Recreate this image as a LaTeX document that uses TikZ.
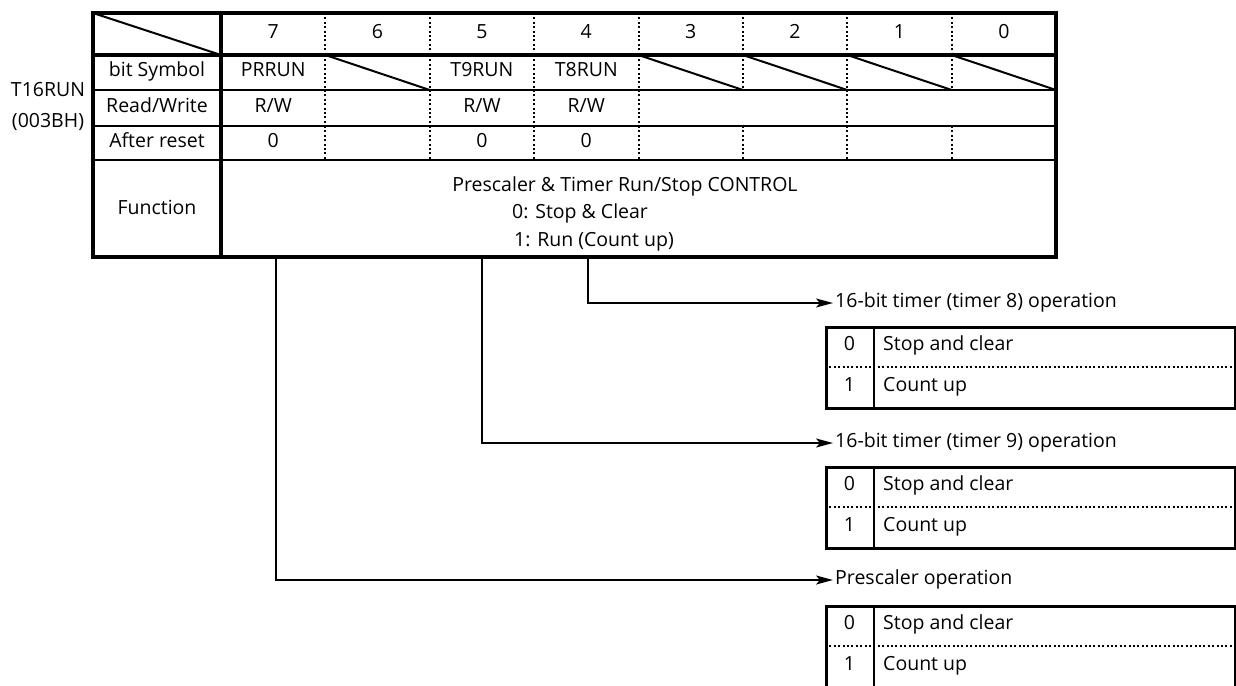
\documentclass[tikz,border=0pt]{standalone}
\usepackage{fontspec}
\setmainfont{Open Sans}
\usetikzlibrary{arrows.meta}
\begin{document}
\begin{tikzpicture}[x=1pt,y=-1pt,
  thickline/.style={line width=3.6pt},
  thinline/.style={line width=2pt},
  dotline/.style={line width=2pt, dash pattern=on 2pt off 2.4pt},
  txt/.style={font=\fontsize{19.5}{22}\selectfont, inner sep=0pt, text height=14pt, text depth=4.5pt},
  lab/.style={txt, anchor=west, inner sep=2pt},
  conn/.style={line width=2pt, -{Stealth[length=17pt,width=9pt,inset=4pt]}},
  boxst/.style={draw, line width=2.6pt, anchor=north west, minimum width=409pt, minimum height=81pt, inner sep=0pt},
]
\useasboundingbox (0,0) rectangle (1236,685);
\clip (0,0) rectangle (1236,685);
\def\cw{104.375}
% row lines (thin)
\foreach \yy in {90,126,160} \draw[thinline] (93,\yy) -- (1056,\yy);
% dotted dividers
\foreach \k in {1,...,7} {
  \draw[dotline] (221+\k*\cw,13) -- (221+\k*\cw,55);
  \draw[dotline] (221+\k*\cw,55) -- (221+\k*\cw,90);
  \draw[dotline] (221+\k*\cw,126) -- (221+\k*\cw,160);
}
\foreach \k in {1,2,3,4,6} \draw[dotline] (221+\k*\cw,90) -- (221+\k*\cw,126);
% diagonals
\draw[line width=2pt] (93,13) -- (221,55);
\foreach \k in {1,4,5,6,7} \draw[line width=2pt] (221+\k*\cw,55) -- (221+\k*\cw+\cw,90);
% thick lines
\draw[thickline] (93,55) -- (1056,55);
\draw[thickline] (221,13) -- (221,257);
\draw[thickline] (93,13) rectangle (1056,257);
% header numbers
\foreach \n [count=\i from 0] in {7,6,5,4,3,2,1,0}
  \node[txt] (h\n) at (221+\i*\cw+\cw/2,34) {\n};
% left labels
\node[txt] (reg) at (48,92) {T16RUN};
\node[txt] (addr) at (48,123) {(003BH)};
\node[txt] (lsym) at (157,72) {bit Symbol};
\node[txt] (lrw) at (157,108) {Read/Write};
\node[txt] (lrst) at (157,143) {After reset};
\node[txt] (lfun) at (157,210) {Function};
% cells
\node[txt] (s7) at (221+0.5*\cw,72) {PRRUN};
\node[txt] (s5) at (221+2.5*\cw,72) {T9RUN};
\node[txt] (s4) at (221+3.5*\cw,72) {T8RUN};
\node[txt] (rw7) at (221+0.5*\cw,108) {R/W};
\node[txt] (rw5) at (221+2.5*\cw,108) {R/W};
\node[txt] (rw4) at (221+3.5*\cw,108) {R/W};
\node[txt] (r7) at (221+0.5*\cw,143) {0};
\node[txt] (r5) at (221+2.5*\cw,143) {0};
\node[txt] (r4) at (221+3.5*\cw,143) {0};
% function text
\node[txt] (f1) at (625,187) {Prescaler \& Timer Run/Stop CONTROL};
\node[txt, anchor=west] (f2) at (512,214) {0: Stop \& Clear};
\node[txt, anchor=west] (f3) at (514,242) {1: Run (Count up)};
% connectors
\coordinate (c7) at (276,258.8);
\coordinate (c5) at (482,258.8);
\coordinate (c4) at (588,258.8);
\node[lab] (op8) at (833,303) {16-bit timer (timer 8) operation};
\node[lab] (op9) at (833,443) {16-bit timer (timer 9) operation};
\node[lab] (opp) at (833,580) {Prescaler operation};
\draw[conn] (c4) |- (op8.west);
\draw[conn] (c5) |- (op9.west);
\draw[conn] (c7) |- (opp.west);
% option boxes
\foreach \nm/\T in {ba/326, bb/466, bc/605} {
  \node[boxst] (\nm) at (825,\T) {};
  \draw[line width=1.8pt] (874,\T) -- (874,\T+81);
  \draw[dotline] (825,\T+40.5) -- (1234,\T+40.5);
  \node[txt] (\nm z) at (849.5,\T+20) {0};
  \node[txt, anchor=west] (\nm zt) at (883,\T+20) {Stop and clear};
  \node[txt] (\nm o) at (849.5,\T+61) {1};
  \node[txt, anchor=west] (\nm ot) at (883,\T+61) {Count up};
}
\end{tikzpicture}
\end{document}
